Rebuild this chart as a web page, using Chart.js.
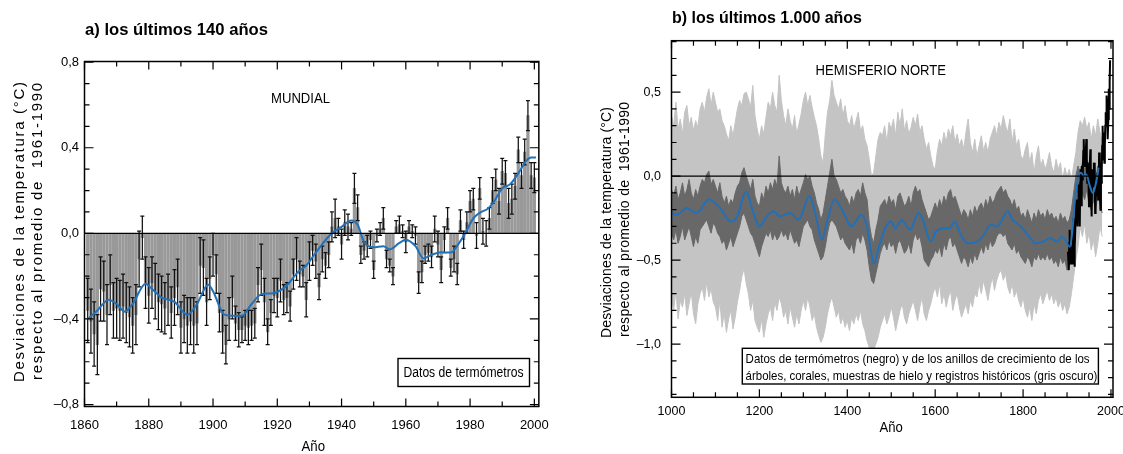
<!DOCTYPE html>
<html><head><meta charset="utf-8">
<script src="https://cdn.jsdelivr.net/npm/chart.js@4.4.1/dist/chart.umd.min.js"></script>
<style>
html,body{margin:0;padding:0;background:#fff;overflow:hidden;width:1123px;height:454px;}
#wrap{position:relative;width:1123px;height:454px;overflow:hidden;background:#fff;}
canvas{position:absolute;top:0;}
#ca{left:0;} #cb{left:560px;}
</style></head><body>
<div id="wrap"><canvas id="ca" width="560" height="454"></canvas><canvas id="cb" width="600" height="454"></canvas></div>
<script>
// ---------- Panel a: global, last 140 years ----------
const firstYearA = 1861;
const anomA = [
 -0.36,-0.41,-0.47,-0.52,-0.26,-0.27,-0.38,-0.24,-0.36,-0.35,
 -0.36,-0.34,-0.37,-0.39,-0.43,-0.38,-0.12,-0.02,-0.23,-0.29,
 -0.23,-0.27,-0.32,-0.33,-0.35,-0.31,-0.37,-0.30,-0.25,-0.44,
 -0.40,-0.43,-0.41,-0.43,-0.42,-0.15,-0.16,-0.32,-0.21,-0.10,
 -0.19,-0.37,-0.46,-0.52,-0.40,-0.30,-0.42,-0.45,-0.45,-0.43,
 -0.44,-0.43,-0.42,-0.24,-0.17,-0.32,-0.46,-0.37,-0.29,-0.30,
 -0.22,-0.31,-0.30,-0.34,-0.19,-0.12,-0.19,-0.20,-0.31,-0.13,
 -0.08,-0.13,-0.25,-0.12,-0.15,-0.10,0.03,0.07,0.03,-0.05,
 0.05,0.03,0.02,0.21,0.12,-0.10,-0.08,-0.06,-0.03,-0.17,
 -0.01,0.02,0.07,-0.12,-0.15,-0.20,0.03,0.04,0.01,-0.04,
 0.03,0.01,-0.01,-0.23,-0.18,-0.10,-0.09,-0.11,0.02,-0.05,
 -0.17,-0.03,0.07,-0.16,-0.12,-0.19,0.06,-0.03,0.05,0.15,
 0.16,-0.01,0.21,0.01,0.00,0.07,0.20,0.25,0.15,0.29,
 0.28,0.14,0.16,0.22,0.39,0.27,0.38,0.55,0.27,0.26];
const errA = [
 0.15,0.15,0.15,0.14,0.15,0.14,0.14,0.14,0.13,0.14,
 0.14,0.15,0.14,0.14,0.13,0.14,0.13,0.10,0.12,0.13,
 0.12,0.13,0.13,0.13,0.12,0.12,0.12,0.13,0.13,0.12,
 0.11,0.13,0.11,0.13,0.10,0.13,0.13,0.11,0.10,0.10,
 0.09,0.09,0.10,0.09,0.10,0.10,0.08,0.08,0.06,0.07,
 0.08,0.07,0.07,0.08,0.12,0.11,0.06,0.06,0.08,0.09,
 0.10,0.07,0.07,0.07,0.07,0.10,0.06,0.05,0.08,0.09,
 0.07,0.08,0.06,0.06,0.06,0.06,0.07,0.09,0.04,0.07,
 0.06,0.06,0.03,0.07,0.06,0.04,0.04,0.05,0.04,0.04,
 0.03,0.03,0.05,0.04,0.03,0.04,0.03,0.04,0.03,0.05,
 0.03,0.03,0.04,0.05,0.05,0.04,0.04,0.05,0.06,0.06,
 0.06,0.06,0.05,0.04,0.06,0.05,0.05,0.04,0.05,0.05,
 0.05,0.06,0.05,0.06,0.06,0.05,0.06,0.05,0.06,0.06,
 0.06,0.07,0.07,0.06,0.06,0.06,0.06,0.07,0.06,0.07];
const smoothYearsA = [1861,1864,1867.5,1870,1872.5,1875,1879,1881,1884,1888,1892,1895,1898.5,1900,1903.5,1906,1909,1912,1915,1918.5,1922.5,1926.5,1929,1931.5,1934,1937,1940,1943,1945,1947,1950,1953,1955,1958,1960,1963,1965.5,1968,1971,1974,1976.5,1978.5,1981,1983.5,1985.5,1987.5,1990,1992.5,1995,1997.5,1999,2000.5];
const smoothA = [-0.40,-0.36,-0.31,-0.33,-0.365,-0.33,-0.235,-0.26,-0.30,-0.32,-0.38,-0.33,-0.24,-0.27,-0.38,-0.385,-0.385,-0.33,-0.285,-0.28,-0.25,-0.18,-0.15,-0.10,-0.05,0.0,0.03,0.06,0.04,-0.04,-0.065,-0.06,-0.075,-0.045,-0.03,-0.06,-0.117,-0.10,-0.088,-0.09,-0.047,0.0,0.07,0.10,0.115,0.15,0.21,0.23,0.28,0.34,0.355,0.355];
const xTickValsA = [1860,1880,1900,1920,1940,1960,1980,2000];
const xMinorA = [1870,1890,1910,1930,1950,1970,1990];
const yTickValsA = [-0.8,-0.4,0,0.4,0.8];
const yTickLabelsA = ['\u20130,8','\u20130,4','0,0','0,4','0,8'];
const yMinorA = [-0.7,-0.6,-0.5,-0.3,-0.2,-0.1,0.1,0.2,0.3,0.5,0.6,0.7];

// ---------- Panel b: Northern Hemisphere, last 1000 years (5-year steps from 1000) ----------
const firstYearB = 1000, stepB = 5;
const lightHiB = [
 0.36,0.30,0.44,0.28,0.34,0.25,0.38,0.42,0.30,0.35,
 0.27,0.33,0.29,0.40,0.44,0.38,0.47,0.52,0.42,0.50,
 0.44,0.38,0.40,0.33,0.30,0.25,0.21,0.30,0.24,0.32,
 0.40,0.45,0.42,0.49,0.50,0.46,0.41,0.54,0.36,0.28,
 0.22,0.30,0.25,0.35,0.44,0.40,0.50,0.42,0.38,0.60,
 0.45,0.36,0.30,0.40,0.33,0.28,0.36,0.25,0.31,0.37,
 0.45,0.50,0.42,0.48,0.41,0.35,0.30,0.22,0.12,0.08,
 0.25,0.38,0.45,0.57,0.48,0.44,0.40,0.46,0.36,0.42,
 0.33,0.30,0.36,0.28,0.33,0.38,0.27,0.30,0.22,0.18,
 0.10,0.00,0.02,0.12,0.22,0.26,0.24,0.30,0.20,0.32,
 0.28,0.34,0.24,0.38,0.30,0.40,0.27,0.33,0.25,0.29,
 0.35,0.30,0.37,0.26,0.30,0.22,0.16,0.20,0.12,0.06,
 0.04,0.15,0.22,0.18,0.26,0.20,0.28,0.24,0.30,0.20,
 0.25,0.18,0.22,0.16,0.26,0.34,0.20,0.14,0.22,0.12,
 0.18,0.24,0.15,0.20,0.14,0.22,0.26,0.30,0.24,0.32,
 0.28,0.36,0.30,0.26,0.34,0.20,0.28,0.18,0.22,0.12,
 0.10,0.16,0.20,0.08,0.14,0.02,0.12,0.18,0.06,0.10,
 0.04,0.08,0.14,0.06,0.02,0.10,0.04,0.08,-0.02,0.05,
 0.00,0.04,-0.02,0.06,0.14,0.26,0.33,0.30,0.35,0.28,
 0.32,0.22,0.30,0.24,0.34,0.26,0.20];
const lightLoB = [
 -0.72,-0.80,-0.68,-0.85,-0.74,-0.78,-0.70,-0.83,-0.76,-0.69,
 -0.82,-0.88,-0.76,-0.70,-0.66,-0.74,-0.63,-0.72,-0.67,-0.75,
 -0.78,-0.86,-0.74,-0.90,-0.82,-0.93,-0.85,-0.80,-0.91,-0.84,
 -0.75,-0.68,-0.60,-0.55,-0.64,-0.70,-0.80,-0.74,-0.86,-0.90,
 -0.93,-0.85,-0.96,-0.88,-0.82,-0.78,-0.86,-0.75,-0.80,-0.72,
 -0.76,-0.84,-0.80,-0.88,-0.78,-0.84,-0.90,-0.82,-0.88,-0.80,
 -0.74,-0.80,-0.72,-0.78,-0.86,-0.82,-0.90,-0.95,-0.99,-0.96,
 -0.90,-0.82,-0.76,-0.72,-0.78,-0.84,-0.80,-0.88,-0.84,-0.90,
 -0.86,-0.92,-0.84,-0.88,-0.82,-0.86,-0.80,-0.88,-0.92,-0.98,
 -1.02,-1.05,-1.03,-1.00,-0.96,-0.90,-0.86,-0.82,-0.88,-0.84,
 -0.78,-0.84,-0.92,-0.86,-0.80,-0.76,-0.84,-0.88,-0.82,-0.78,
 -0.74,-0.80,-0.86,-0.78,-0.72,-0.82,-0.86,-0.80,-0.76,-0.70,
 -0.66,-0.72,-0.64,-0.76,-0.70,-0.78,-0.72,-0.68,-0.80,-0.74,
 -0.70,-0.78,-0.84,-0.80,-0.76,-0.82,-0.74,-0.78,-0.70,-0.72,
 -0.64,-0.70,-0.62,-0.68,-0.74,-0.66,-0.60,-0.68,-0.62,-0.58,
 -0.56,-0.62,-0.58,-0.66,-0.70,-0.64,-0.72,-0.68,-0.74,-0.78,
 -0.72,-0.80,-0.84,-0.78,-0.86,-0.76,-0.82,-0.74,-0.70,-0.76,
 -0.72,-0.68,-0.74,-0.70,-0.76,-0.72,-0.78,-0.74,-0.80,-0.76,
 -0.82,-0.78,-0.70,-0.60,-0.50,-0.42,-0.30,-0.36,-0.28,-0.40,
 -0.34,-0.44,-0.38,-0.48,-0.40,-0.30,-0.36];
const darkHiB = [
 -0.08,-0.12,-0.06,-0.14,-0.10,-0.04,-0.12,-0.08,-0.02,-0.10,
 -0.14,-0.08,-0.12,-0.06,-0.02,-0.04,0.01,0.03,-0.05,-0.02,
 -0.06,-0.10,-0.04,-0.12,-0.16,-0.12,-0.18,-0.14,-0.16,-0.10,
 -0.06,-0.04,0.02,0.05,0.00,-0.04,-0.08,-0.02,-0.12,-0.16,
 -0.18,-0.10,-0.14,-0.06,-0.10,-0.04,-0.08,-0.02,-0.06,0.12,
 -0.04,-0.08,-0.10,-0.06,-0.12,-0.08,-0.14,-0.06,-0.12,-0.08,
 -0.04,0.01,-0.02,0.00,-0.06,-0.10,-0.16,-0.20,-0.26,-0.22,
 -0.14,-0.06,0.02,0.10,0.00,-0.02,-0.06,-0.10,-0.08,-0.12,
 -0.14,-0.18,-0.12,-0.16,-0.10,-0.08,-0.12,-0.04,-0.10,-0.14,
 -0.28,-0.36,-0.40,-0.32,-0.26,-0.18,-0.16,-0.14,-0.18,-0.12,
 -0.16,-0.14,-0.20,-0.12,-0.10,-0.14,-0.18,-0.16,-0.12,-0.18,
 -0.10,-0.06,-0.10,-0.08,-0.14,-0.18,-0.22,-0.26,-0.24,-0.20,
 -0.16,-0.20,-0.14,-0.18,-0.12,-0.16,-0.10,-0.08,-0.14,-0.12,
 -0.16,-0.20,-0.24,-0.20,-0.22,-0.26,-0.20,-0.24,-0.18,-0.22,
 -0.18,-0.16,-0.20,-0.14,-0.18,-0.12,-0.16,-0.14,-0.10,-0.08,
 -0.06,-0.10,-0.08,-0.12,-0.14,-0.18,-0.14,-0.20,-0.18,-0.24,
 -0.22,-0.26,-0.20,-0.24,-0.28,-0.22,-0.26,-0.20,-0.24,-0.22,
 -0.26,-0.20,-0.24,-0.22,-0.26,-0.24,-0.28,-0.22,-0.26,-0.24,
 -0.28,-0.26,-0.20,-0.10,0.00,0.06,0.02,0.08,0.04,0.10,
 0.06,0.00,0.04,-0.02,0.06,0.02,-0.04];
const darkLoB = [
 -0.34,-0.38,-0.32,-0.40,-0.36,-0.30,-0.38,-0.34,-0.30,-0.36,
 -0.42,-0.36,-0.40,-0.32,-0.30,-0.28,-0.26,-0.30,-0.34,-0.28,
 -0.30,-0.34,-0.36,-0.40,-0.38,-0.44,-0.40,-0.36,-0.42,-0.38,
 -0.34,-0.30,-0.24,-0.22,-0.26,-0.30,-0.34,-0.36,-0.40,-0.44,
 -0.48,-0.42,-0.38,-0.34,-0.36,-0.32,-0.38,-0.34,-0.38,-0.36,
 -0.32,-0.36,-0.34,-0.38,-0.32,-0.36,-0.40,-0.38,-0.42,-0.36,
 -0.30,-0.28,-0.26,-0.30,-0.32,-0.38,-0.42,-0.46,-0.50,-0.48,
 -0.42,-0.34,-0.28,-0.26,-0.28,-0.30,-0.34,-0.38,-0.36,-0.40,
 -0.42,-0.44,-0.40,-0.46,-0.38,-0.36,-0.40,-0.34,-0.38,-0.44,
 -0.54,-0.62,-0.64,-0.58,-0.52,-0.46,-0.42,-0.40,-0.44,-0.38,
 -0.42,-0.40,-0.46,-0.40,-0.38,-0.42,-0.46,-0.44,-0.40,-0.46,
 -0.38,-0.34,-0.38,-0.36,-0.42,-0.50,-0.52,-0.54,-0.50,-0.48,
 -0.44,-0.46,-0.42,-0.48,-0.40,-0.44,-0.38,-0.36,-0.42,-0.40,
 -0.44,-0.48,-0.52,-0.48,-0.50,-0.54,-0.48,-0.52,-0.46,-0.50,
 -0.46,-0.42,-0.46,-0.40,-0.44,-0.38,-0.42,-0.40,-0.36,-0.34,
 -0.34,-0.36,-0.34,-0.40,-0.42,-0.44,-0.40,-0.46,-0.44,-0.48,
 -0.50,-0.52,-0.48,-0.50,-0.54,-0.48,-0.50,-0.46,-0.50,-0.48,
 -0.50,-0.46,-0.50,-0.48,-0.52,-0.50,-0.54,-0.48,-0.52,-0.50,
 -0.56,-0.54,-0.48,-0.34,-0.22,-0.14,-0.16,-0.10,-0.14,-0.08,
 -0.16,-0.20,-0.14,-0.20,-0.12,-0.16,-0.22];
const firstYearBlack = 1902;
const thermoB = [
 -0.45,-0.50,-0.56,-0.40,-0.32,-0.52,-0.48,-0.50,-0.46,-0.48,
 -0.52,-0.44,-0.28,-0.25,-0.38,-0.54,-0.42,-0.30,-0.30,-0.14,
 -0.28,-0.24,-0.30,-0.16,-0.05,-0.12,-0.08,-0.30,-0.04,0.04,
 0.00,-0.18,0.06,-0.02,0.04,0.15,0.22,0.08,0.12,0.06,
 0.08,0.14,0.22,0.04,-0.04,0.08,0.02,-0.04,-0.18,-0.02,
 0.04,0.16,-0.06,-0.14,-0.24,0.02,0.04,0.02,-0.06,0.08,
 0.04,0.08,-0.22,-0.16,-0.08,-0.04,-0.12,0.02,-0.02,-0.14,
 -0.06,0.14,-0.12,-0.08,-0.20,0.08,-0.04,0.04,0.18,0.30,
 0.10,0.26,0.14,0.08,0.18,0.30,0.38,0.32,0.48,0.42,
 0.24,0.22,0.34,0.52,0.40,0.56,0.69];
const smoothYearsB = [1000,1012,1035,1057,1085,1110,1135,1148,1170,1184,1200,1217,1232,1247,1270,1289,1314,1327,1342,1354,1371,1388,1410,1432,1444,1461,1472,1488,1500,1509,1524,1543,1562,1572,1590,1602,1618,1632,1645,1655,1673,1696,1711,1726,1741,1765,1776,1795,1817,1828,1845,1862,1877,1889,1896,1906,1912,1918,1925,1932,1938,1944,1952,1959,1966,1972];
const smoothB = [-0.22,-0.23,-0.19,-0.22,-0.14,-0.19,-0.27,-0.25,-0.09,-0.20,-0.30,-0.24,-0.21,-0.24,-0.22,-0.26,-0.12,-0.22,-0.38,-0.27,-0.14,-0.20,-0.30,-0.23,-0.29,-0.52,-0.42,-0.30,-0.27,-0.31,-0.26,-0.32,-0.22,-0.26,-0.39,-0.33,-0.31,-0.31,-0.27,-0.33,-0.40,-0.39,-0.35,-0.29,-0.30,-0.21,-0.26,-0.30,-0.37,-0.40,-0.39,-0.37,-0.39,-0.36,-0.38,-0.42,-0.33,-0.14,-0.01,0.02,0.00,0.01,-0.06,-0.10,-0.04,0.05];
const xTickValsB = [1000,1200,1400,1600,1800,2000];
const xMinorB = [1050,1100,1150,1250,1300,1350,1450,1500,1550,1650,1700,1750,1850,1900,1950];
const yTickValsB = [-1.0,-0.5,0,0.5];
const yTickLabelsB = ['\u20131,0','\u20130,5','0,0','0,5'];
const yMinorB = [-1.3,-1.2,-1.1,-0.9,-0.8,-0.7,-0.6,-0.4,-0.3,-0.2,-0.1,0.1,0.2,0.3,0.4,0.6,0.7,0.8];

// ---------- helpers ----------
const FAM = "'Liberation Sans', Arial, Helvetica, sans-serif";
Chart.defaults.font.family = FAM;
Chart.defaults.color = '#000';

function fitText(ctx, txt, x, y, w, font) {
  ctx.save();
  ctx.font = font; ctx.textAlign = 'left'; ctx.textBaseline = 'alphabetic'; ctx.fillStyle = '#000';
  const m = ctx.measureText(txt).width;
  ctx.translate(x, y); ctx.scale(w / m, 1); ctx.fillText(txt, 0, 0);
  ctx.restore();
}
function vText(ctx, txt, cx, cy, len, font) {
  ctx.save();
  ctx.font = font; ctx.textAlign = 'left'; ctx.textBaseline = 'middle'; ctx.fillStyle = '#000';
  ctx.translate(cx, cy); ctx.rotate(-Math.PI / 2);
  const m = ctx.measureText(txt).width;
  if (len > m && 'letterSpacing' in ctx) {
    ctx.letterSpacing = ((len - m) / (txt.length - 1)).toFixed(2) + 'px';
    ctx.fillText(txt, -len / 2, 0);
  } else {
    ctx.scale(len / m, 1); ctx.fillText(txt, -m / 2, 0);
  }
  ctx.restore();
}
function decor(cfg) {
  return {
    id: 'decor',
    afterDatasetDraw(chart, args) {
      const eb = cfg.errors;
      if (!eb || args.index !== eb.index) return;
      const ctx = chart.ctx, x = chart.scales.x, y = chart.scales.y;
      ctx.save(); ctx.strokeStyle = '#111'; ctx.lineWidth = 1.25;
      eb.values.forEach((v, i) => {
        const px = x.getPixelForValue(eb.first + i);
        const t = y.getPixelForValue(v + eb.err[i]), b = y.getPixelForValue(v - eb.err[i]);
        ctx.beginPath();
        ctx.moveTo(px, t); ctx.lineTo(px, b);
        ctx.moveTo(px - 2, t); ctx.lineTo(px + 2, t);
        ctx.moveTo(px - 2, b); ctx.lineTo(px + 2, b);
        ctx.stroke();
      });
      ctx.restore();
    },
    afterDraw(chart) {
      const ctx = chart.ctx, a = chart.chartArea, x = chart.scales.x, y = chart.scales.y;
      ctx.save();
      ctx.strokeStyle = '#000';
      ctx.lineWidth = 1.4;
      const y0 = y.getPixelForValue(0);
      ctx.beginPath(); ctx.moveTo(a.left, y0); ctx.lineTo(a.right, y0); ctx.stroke();
      ctx.lineWidth = 1.2;
      const tk = (vals, len, horiz) => {
        vals.forEach(v => {
          ctx.beginPath();
          if (horiz) {
            const p = x.getPixelForValue(v);
            ctx.moveTo(p, a.bottom); ctx.lineTo(p, a.bottom - len);
            ctx.moveTo(p, a.top); ctx.lineTo(p, a.top + len);
          } else {
            const p = y.getPixelForValue(v);
            ctx.moveTo(a.left, p); ctx.lineTo(a.left + len, p);
            ctx.moveTo(a.right, p); ctx.lineTo(a.right - len, p);
          }
          ctx.stroke();
        });
      };
      tk(cfg.xMinor, 5, true); tk(cfg.xMajor, 8, true);
      tk(cfg.yMinor, 5, false); tk(cfg.yMajor, 9, false);
      ctx.lineWidth = 1.5;
      ctx.strokeRect(a.left, a.top, a.right - a.left, a.bottom - a.top);
      const lb = cfg.box;
      ctx.lineWidth = 1.4;
      ctx.fillStyle = '#fff';
      ctx.fillRect(lb.x, lb.y, lb.w, lb.h);
      ctx.strokeRect(lb.x, lb.y, lb.w, lb.h);
      ctx.restore();
      cfg.texts.forEach(t => fitText(ctx, t.t, t.x, t.y, t.w, t.f));
      cfg.vtexts.forEach(t => vText(ctx, t.t, t.x, t.y, t.len, t.f));
    }
  };
}

// ---------- Chart a ----------
const yearsA = anomA.map((_, i) => firstYearA + i);
new Chart(document.getElementById('ca'), {
  type: 'bar',
  data: {
    datasets: [
      { type: 'line', data: smoothYearsA.map((yr, i) => ({ x: yr, y: smoothA[i] })),
        borderColor: '#2270b8', borderWidth: 2, pointRadius: 0, cubicInterpolationMode: 'monotone', order: 0 },
      { type: 'bar', data: yearsA.map((yr, i) => ({ x: yr, y: anomA[i] })),
        backgroundColor: '#999999', borderWidth: 0, barThickness: 2.6, order: 1 }
    ]
  },
  options: {
    responsive: false, animation: false, devicePixelRatio: 1, events: [],
    layout: { padding: { left: 0, top: 61.5, right: 19.5, bottom: 2.5 } },
    plugins: { legend: { display: false }, tooltip: { enabled: false }, title: { display: false } },
    scales: {
      x: { type: 'linear', min: 1860, max: 2001.4, offset: false,
        grid: { display: false, drawTicks: false }, border: { display: false },
        afterBuildTicks: s => { s.ticks = xTickValsA.map(v => ({ value: v })); },
        ticks: { autoSkip: false, maxRotation: 0, padding: 11, font: { size: 13 }, color: '#000', callback: v => String(v) },
        afterFit: s => { s.height = 45; } },
      y: { type: 'linear', min: -0.809, max: 0.803,
        grid: { display: false, drawTicks: false }, border: { display: false },
        afterBuildTicks: s => { s.ticks = yTickValsA.map(v => ({ value: v })); },
        ticks: { padding: 5.5, font: { size: 13 }, color: '#000', callback: (v, i) => yTickLabelsA[i] },
        afterFit: s => { s.width = 84.5; } }
    }
  },
  plugins: [decor({
    errors: { index: 1, first: firstYearA, values: anomA, err: errA },
    xMajor: xTickValsA, xMinor: xMinorA, yMajor: yTickValsA, yMinor: yMinorA,
    box: { x: 398, y: 358.5, w: 131.5, h: 28 },
    texts: [
      { t: 'a) los últimos 140 años', x: 85, y: 35, w: 183, f: 'bold 16px ' + FAM },
      { t: 'MUNDIAL', x: 271, y: 103, w: 59, f: '15px ' + FAM },
      { t: 'Datos de termómetros', x: 403.5, y: 376.5, w: 120, f: '14px ' + FAM },
      { t: 'Año', x: 301.5, y: 451, w: 23.5, f: '15px ' + FAM }
    ],
    vtexts: [
      { t: 'Desviaciones de la temperatura (°C)', x: 20, y: 232, len: 300, f: '15px ' + FAM },
      { t: 'respecto al promedio de  1961-1990', x: 38, y: 231.5, len: 297, f: '15px ' + FAM }
    ]
  })]
});

// ---------- Chart b ----------
const yearsB = lightHiB.map((_, i) => firstYearB + stepB * i);
const yearsBlack = thermoB.map((_, i) => firstYearBlack + i);
const pts = (xs, ys) => xs.map((xv, i) => ({ x: xv, y: ys[i] }));
new Chart(document.getElementById('cb'), {
  type: 'line',
  data: {
    datasets: [
      { data: pts(yearsB, lightLoB), borderColor: '#c4c4c4', borderWidth: 1, pointRadius: 0, tension: 0, fill: false, order: 4 },
      { data: pts(yearsB, lightHiB), borderColor: '#c4c4c4', borderWidth: 1, pointRadius: 0, tension: 0, fill: '-1', backgroundColor: '#c4c4c4', order: 4 },
      { data: pts(yearsB, darkLoB), borderColor: '#686868', borderWidth: 1, pointRadius: 0, tension: 0, fill: false, order: 3 },
      { data: pts(yearsB, darkHiB), borderColor: '#686868', borderWidth: 1, pointRadius: 0, tension: 0, fill: '-1', backgroundColor: '#686868', order: 3 },
      { data: pts(yearsBlack, thermoB), borderColor: '#000', borderWidth: 2, pointRadius: 0, tension: 0, fill: false, order: 2 },
      { data: pts(smoothYearsB, smoothB), borderColor: '#2270b8', borderWidth: 2, pointRadius: 0, cubicInterpolationMode: 'monotone', fill: false, order: 1 }
    ]
  },
  options: {
    responsive: false, animation: false, devicePixelRatio: 1, events: [],
    layout: { padding: { left: 0, top: 40.7, right: 47, bottom: 16.7 } },
    plugins: { legend: { display: false }, tooltip: { enabled: false }, title: { display: false } },
    scales: {
      x: { type: 'linear', min: 1000, max: 2004.6, offset: false,
        grid: { display: false, drawTicks: false }, border: { display: false },
        afterBuildTicks: s => { s.ticks = xTickValsB.map(v => ({ value: v })); },
        ticks: { autoSkip: false, maxRotation: 0, padding: 6.5, font: { size: 12.5 }, color: '#000', callback: v => String(v) },
        afterFit: s => { s.height = 40; } },
      y: { type: 'linear', min: -1.317, max: 0.806,
        grid: { display: false, drawTicks: false }, border: { display: false },
        afterBuildTicks: s => { s.ticks = yTickValsB.map(v => ({ value: v })); },
        ticks: { padding: 10.5, font: { size: 12.5 }, color: '#000', callback: (v, i) => yTickLabelsB[i] },
        afterFit: s => { s.width = 111.5; } }
    }
  },
  plugins: [decor({
    xMajor: xTickValsB, xMinor: xMinorB, yMajor: yTickValsB, yMinor: yMinorB,
    box: { x: 182.3, y: 348.3, w: 356.1, h: 35.7 },
    texts: [
      { t: 'b) los últimos 1.000 años', x: 112, y: 22.5, w: 190, f: 'bold 16px ' + FAM },
      { t: 'HEMISFERIO NORTE', x: 255.5, y: 74.5, w: 130.5, f: '15px ' + FAM },
      { t: 'Datos de termómetros (negro) y de los anillos de crecimiento de los', x: 185.6, y: 363, w: 344, f: '13px ' + FAM },
      { t: 'árboles, corales, muestras de hielo y registros históricos (gris oscuro)', x: 185.6, y: 379.5, w: 351.7, f: '13px ' + FAM },
      { t: 'Año', x: 319.5, y: 432, w: 23.3, f: '15px ' + FAM }
    ],
    vtexts: [
      { t: 'Desviaciones de la temperatura (°C)', x: 47.5, y: 222.5, len: 231, f: '14px ' + FAM },
      { t: 'respecto al promedio de  1961-1990', x: 65, y: 219.5, len: 235, f: '14px ' + FAM }
    ]
  })]
});
</script>
</body></html>
